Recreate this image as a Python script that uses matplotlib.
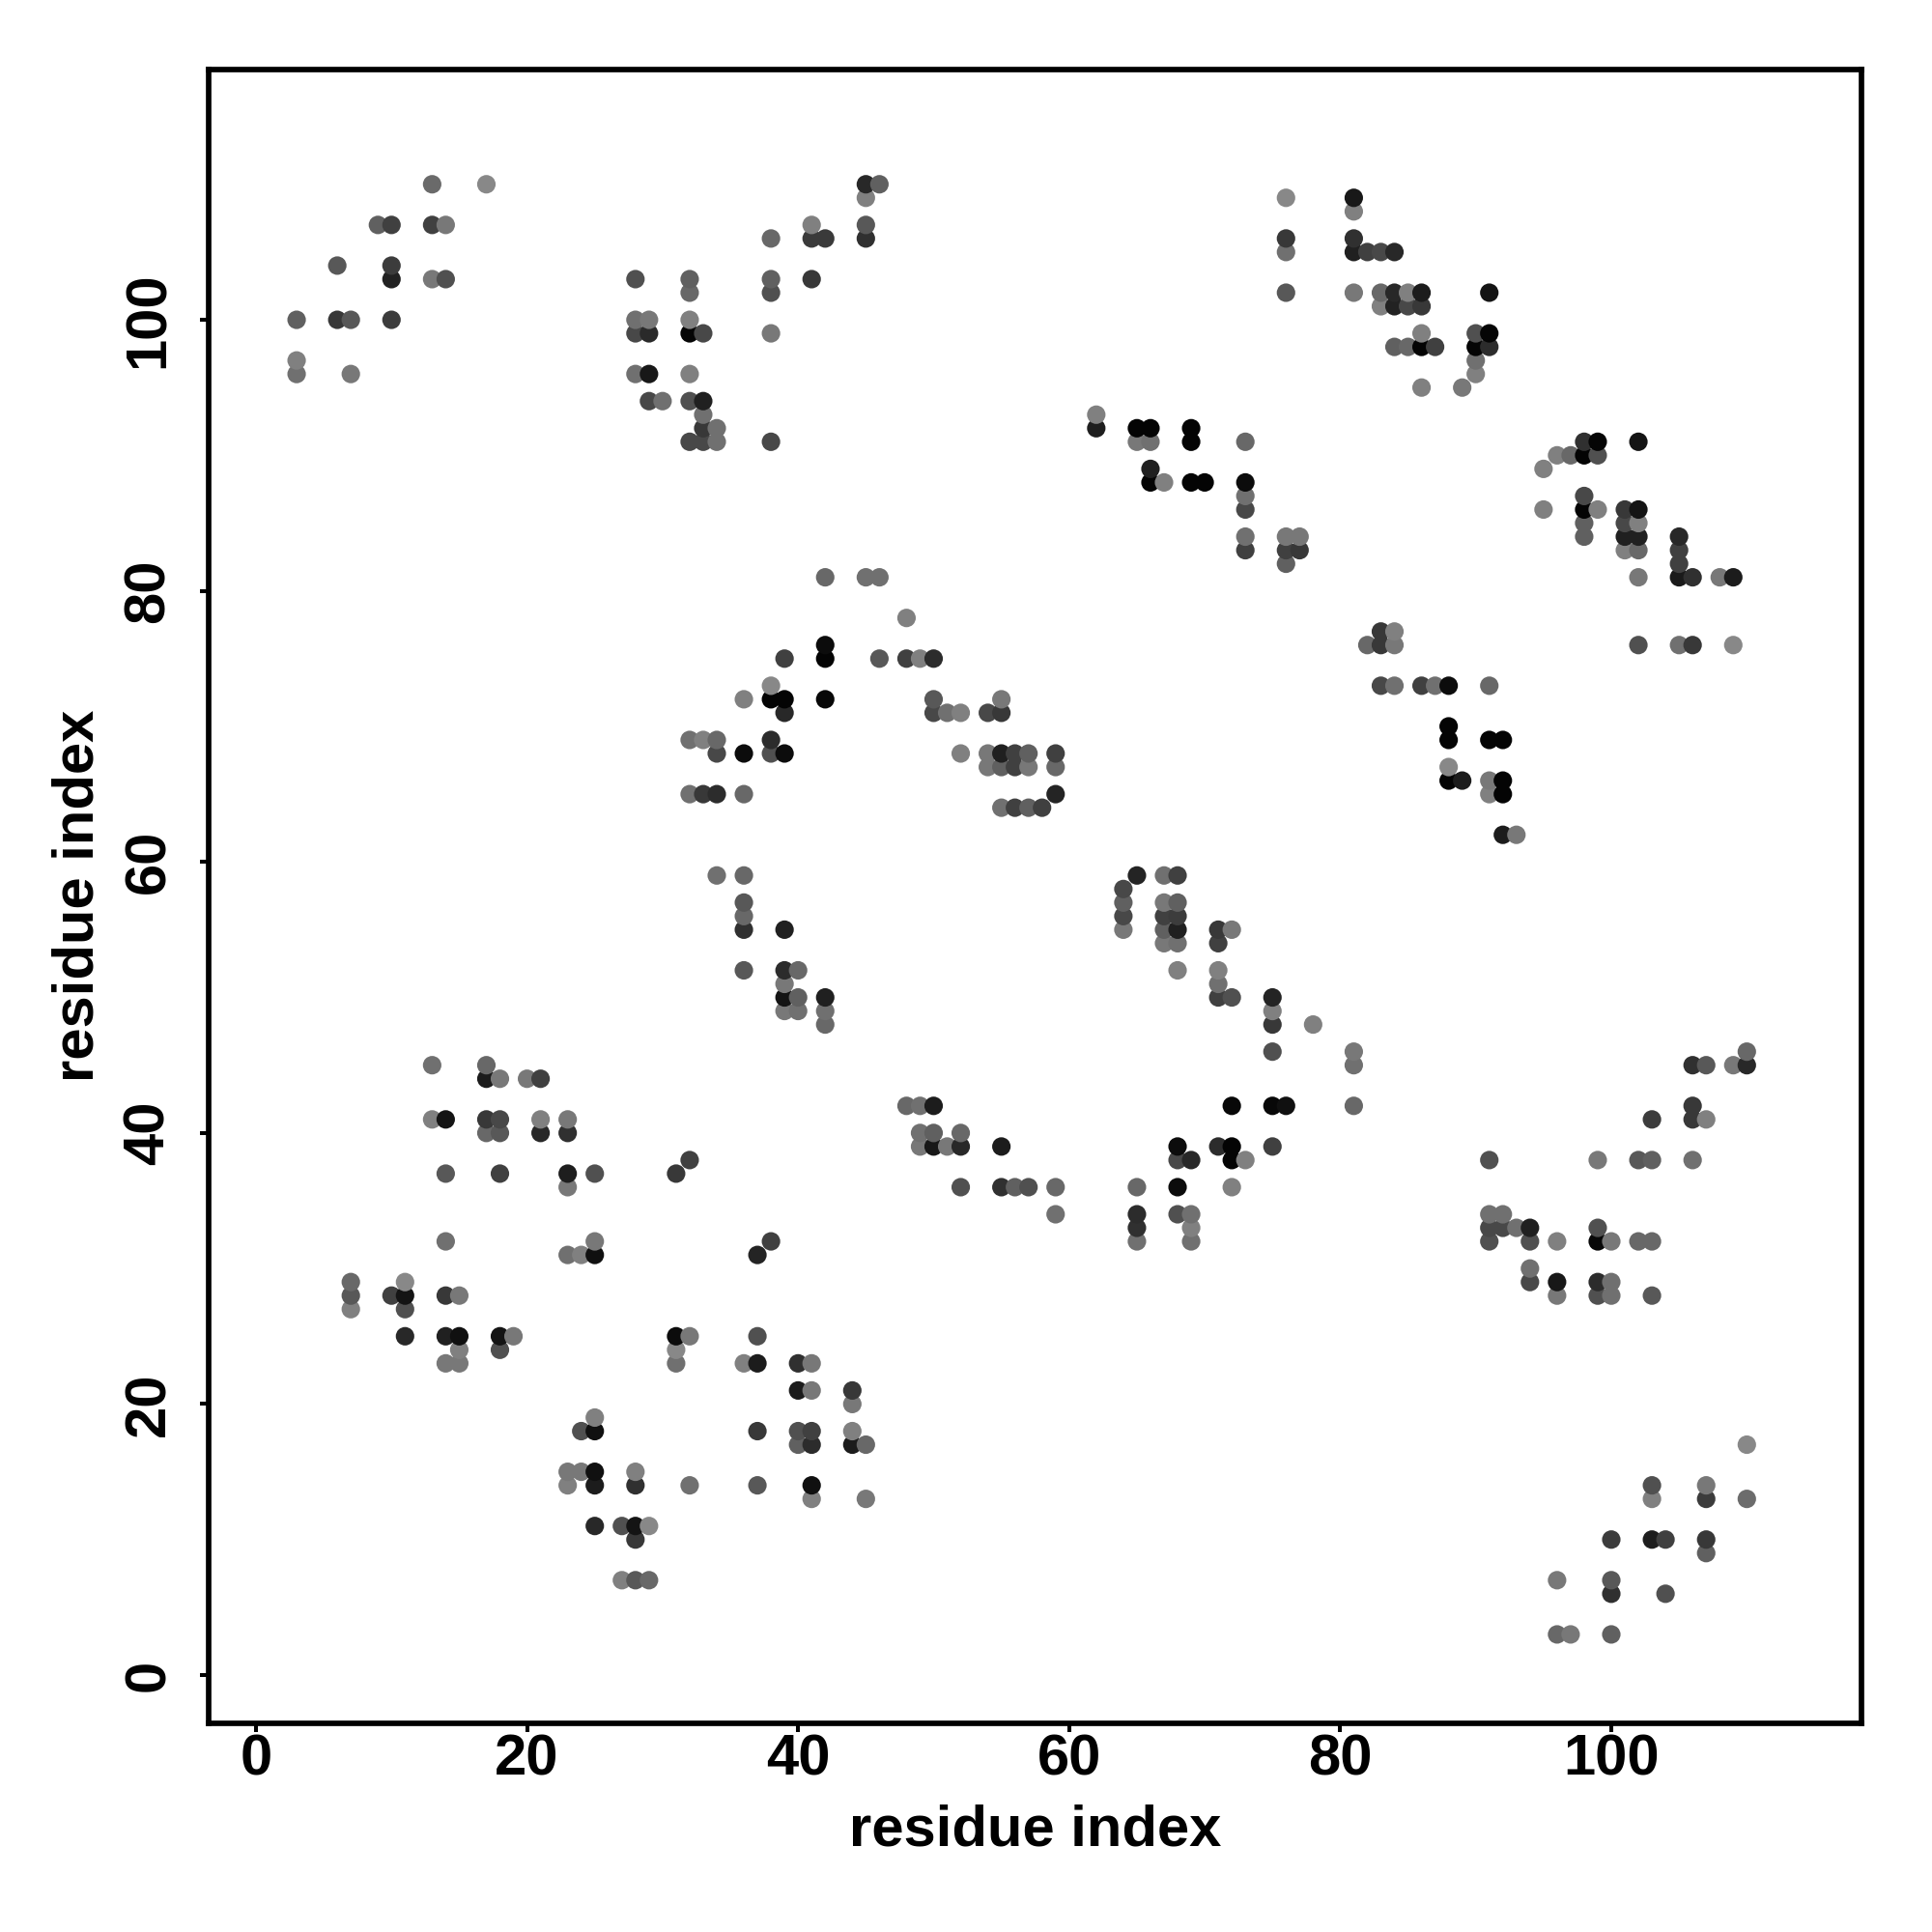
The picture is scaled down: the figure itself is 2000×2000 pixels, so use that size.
import matplotlib
matplotlib.use("Agg")
import matplotlib.pyplot as plt
import numpy as np

FONTSIZE = 43

# contact map: one entry per row of the map
contact_rows = [110, 109, 108, 107, 106, 105, 104, 103, 102, 101, 100, 99, 98, 97, 96, 95, 94, 93, 92, 91,
                90, 89, 88, 87, 86, 85, 84, 83, 82, 81, 78, 77, 76, 75, 73, 72, 71, 70, 69, 68, 67, 66, 65, 64, 62,
                59, 58, 57, 56, 55, 54, 52, 51, 50, 49, 48, 46, 45, 44, 42, 41, 40, 39, 38, 37, 36, 34, 33, 32, 31,
                30, 29, 28, 27, 25, 24, 23, 21, 20, 19, 18, 17, 15, 14, 13, 11, 10, 9, 7, 6, 3]

contact_cols = [
    [13, 17, 45, 46],
    [45, 76, 81],
    [81],
    [9, 10, 13, 14, 41, 45],
    [38, 41, 42, 45, 76, 81],
    [76, 81, 82, 83, 84],
    [6, 10],
    [10, 13, 14, 28, 32, 38, 41],
    [32, 38, 76, 81, 83, 84, 85, 86, 91],
    [83, 84, 85, 86],
    [3, 6, 7, 10, 28, 29, 32],
    [28, 29, 32, 33, 38, 86, 90, 91],
    [84, 85, 86, 87, 90, 91],
    [3, 90],
    [3, 7, 28, 29, 32, 90],
    [86, 89],
    [29, 30, 32, 33],
    [33, 62],
    [33, 34, 62, 65, 66, 69],
    [32, 33, 34, 38, 65, 66, 69, 73, 98, 99, 102],
    [96, 97, 98, 99],
    [66, 95],
    [66, 67, 69, 70, 73],
    [73, 98],
    [73, 95, 98, 99, 101, 102],
    [98, 101, 102],
    [73, 76, 77, 98, 101, 102, 105],
    [73, 76, 77, 101, 102, 105],
    [76, 105],
    [42, 45, 46, 102, 105, 106, 108, 109],
    [48],
    [83, 84],
    [42, 82, 83, 84, 102, 105, 106, 109],
    [39, 42, 46, 48, 49, 50],
    [38, 83, 84, 86, 87, 88, 91],
    [36, 38, 39, 42, 50, 55],
    [39, 50, 51, 52, 54, 55],
    [88],
    [32, 33, 34, 38, 88, 91, 92],
    [34, 36, 38, 39, 52, 54, 55, 56, 57, 59],
    [54, 55, 56, 57, 59, 88],
    [88, 89, 91, 92],
    [32, 33, 34, 36, 59, 91, 92],
    [55, 56, 57, 58],
    [92, 93],
    [34, 36, 65, 67, 68],
    [64],
    [36, 64, 67, 68],
    [36, 64, 67, 68],
    [36, 39, 64, 67, 68, 71, 72],
    [67, 68, 71],
    [36, 39, 40, 68, 71],
    [39, 71],
    [39, 40, 42, 71, 72, 75],
    [39, 40, 42, 75],
    [42, 75, 78],
    [75, 81, 110],
    [13, 17, 81, 106, 107, 109, 110],
    [17, 18, 20, 21],
    [48, 49, 50, 72, 75, 76, 81, 106],
    [13, 14, 17, 18, 21, 23, 103, 106, 107],
    [17, 18, 21, 23, 49, 50, 52],
    [49, 50, 51, 52, 55, 68, 71, 72, 75],
    [32, 68, 69, 72, 73, 91, 99, 102, 103, 106],
    [14, 18, 23, 25, 31],
    [23, 52, 55, 56, 57, 59, 65, 68, 72],
    [59, 65, 68, 69, 91, 92],
    [65, 69, 91, 92, 93, 94, 99],
    [14, 25, 38, 65, 69, 91, 94, 96, 99, 100, 102, 103],
    [23, 24, 25, 37],
    [94],
    [7, 11, 94, 96, 99, 100],
    [7, 10, 11, 14, 15, 96, 99, 100, 103],
    [7, 11],
    [11, 14, 15, 18, 19, 31, 32, 37],
    [15, 18, 31],
    [14, 15, 31, 36, 37, 40, 41],
    [40, 41, 44],
    [44],
    [25],
    [24, 25, 37, 40, 41, 44],
    [40, 41, 44, 45, 110],
    [23, 24, 25, 28],
    [23, 25, 28, 32, 37, 41, 103, 107],
    [41, 45, 103, 107, 110],
    [25, 27, 28, 29],
    [28, 100, 103, 104, 107],
    [107],
    [27, 28, 29, 96, 100],
    [100, 104],
    [96, 97, 100],
]

contact_grays = [
    [0x6a, 0x88, 0x28, 0x60],
    [0x80, 0x88, 0x18],
    [0x80],
    [0x60, 0x40, 0x40, 0x78, 0x80, 0x58],
    [0x68, 0x3a, 0x3a, 0x30, 0x38, 0x30],
    [0x70, 0x20, 0x40, 0x48, 0x28],
    [0x58, 0x3c],
    [0x22, 0x78, 0x50, 0x50, 0x60, 0x60, 0x38],
    [0x68, 0x50, 0x58, 0x78, 0x68, 0x28, 0x80, 0x1c, 0x14],
    [0x80, 0x22, 0x48, 0x38],
    [0x60, 0x38, 0x58, 0x3c, 0x70, 0x78, 0x80],
    [0x48, 0x2a, 0x05, 0x48, 0x78, 0x80, 0x50, 0x05],
    [0x60, 0x68, 0x04, 0x40, 0x05, 0x2c],
    [0x80, 0x70],
    [0x70, 0x78, 0x70, 0x18, 0x80, 0x80],
    [0x80, 0x78],
    [0x48, 0x70, 0x50, 0x20],
    [0x70, 0x80],
    [0x38, 0x70, 0x1e, 0x04, 0x04, 0x04],
    [0x48, 0x48, 0x70, 0x48, 0x78, 0x70, 0x04, 0x68, 0x30, 0x05, 0x14],
    [0x80, 0x68, 0x04, 0x50],
    [0x20, 0x80],
    [0x04, 0x80, 0x04, 0x04, 0x0c],
    [0x70, 0x48],
    [0x48, 0x80, 0x04, 0x80, 0x38, 0x14],
    [0x60, 0x48, 0x80],
    [0x70, 0x78, 0x78, 0x60, 0x20, 0x20, 0x28],
    [0x40, 0x40, 0x38, 0x80, 0x68, 0x40],
    [0x60, 0x40],
    [0x68, 0x70, 0x70, 0x78, 0x1a, 0x30, 0x78, 0x1c],
    [0x80],
    [0x38, 0x80],
    [0x0c, 0x68, 0x38, 0x78, 0x50, 0x70, 0x38, 0x88],
    [0x40, 0x04, 0x58, 0x40, 0x80, 0x2c],
    [0x88, 0x48, 0x70, 0x40, 0x70, 0x0c, 0x68],
    [0x80, 0x04, 0x04, 0x08, 0x58, 0x78],
    [0x28, 0x48, 0x70, 0x80, 0x48, 0x38],
    [0x04],
    [0x70, 0x80, 0x68, 0x2c, 0x04, 0x04, 0x04],
    [0x48, 0x0c, 0x50, 0x0c, 0x80, 0x78, 0x20, 0x40, 0x60, 0x40],
    [0x78, 0x60, 0x40, 0x78, 0x68, 0x88],
    [0x04, 0x1c, 0x78, 0x04],
    [0x70, 0x38, 0x2c, 0x68, 0x24, 0x80, 0x04],
    [0x70, 0x40, 0x60, 0x40],
    [0x1c, 0x78],
    [0x70, 0x68, 0x24, 0x70, 0x40],
    [0x48],
    [0x58, 0x60, 0x78, 0x60],
    [0x68, 0x48, 0x40, 0x3c],
    [0x30, 0x20, 0x78, 0x60, 0x20, 0x38, 0x78],
    [0x78, 0x70, 0x40],
    [0x58, 0x2c, 0x68, 0x80, 0x80],
    [0x78, 0x70],
    [0x14, 0x60, 0x20, 0x40, 0x50, 0x24],
    [0x78, 0x70, 0x70, 0x80],
    [0x68, 0x38, 0x80],
    [0x50, 0x78, 0x68],
    [0x70, 0x68, 0x70, 0x30, 0x58, 0x78, 0x28],
    [0x1c, 0x78, 0x78, 0x40],
    [0x68, 0x70, 0x1c, 0x08, 0x08, 0x10, 0x68, 0x38],
    [0x80, 0x14, 0x38, 0x48, 0x80, 0x78, 0x3c, 0x38, 0x80],
    [0x68, 0x58, 0x28, 0x30, 0x70, 0x60, 0x68],
    [0x78, 0x18, 0x78, 0x28, 0x1c, 0x0c, 0x2c, 0x04, 0x40],
    [0x40, 0x48, 0x28, 0x04, 0x80, 0x50, 0x78, 0x58, 0x60, 0x70],
    [0x58, 0x40, 0x1e, 0x50, 0x38],
    [0x78, 0x50, 0x30, 0x60, 0x50, 0x68, 0x68, 0x0c, 0x80],
    [0x70, 0x2c, 0x50, 0x70, 0x70, 0x70],
    [0x30, 0x80, 0x48, 0x48, 0x70, 0x20, 0x50],
    [0x70, 0x78, 0x40, 0x70, 0x70, 0x50, 0x50, 0x80, 0x08, 0x78, 0x68, 0x68],
    [0x70, 0x80, 0x10, 0x24],
    [0x70],
    [0x68, 0x88, 0x48, 0x18, 0x2c, 0x70],
    [0x58, 0x40, 0x14, 0x38, 0x78, 0x78, 0x50, 0x70, 0x58],
    [0x80, 0x50],
    [0x28, 0x20, 0x10, 0x14, 0x78, 0x0c, 0x78, 0x50],
    [0x80, 0x50, 0x88],
    [0x78, 0x78, 0x70, 0x80, 0x1c, 0x30, 0x78],
    [0x1c, 0x78, 0x38],
    [0x78],
    [0x80],
    [0x50, 0x10, 0x38, 0x50, 0x40, 0x80],
    [0x60, 0x2c, 0x1c, 0x68, 0x88],
    [0x78, 0x78, 0x10, 0x80],
    [0x80, 0x1c, 0x30, 0x70, 0x58, 0x10, 0x50, 0x78],
    [0x80, 0x78, 0x80, 0x3c, 0x6c],
    [0x28, 0x50, 0x14, 0x88],
    [0x38, 0x3c, 0x1e, 0x40, 0x38],
    [0x60],
    [0x80, 0x58, 0x68, 0x78, 0x58],
    [0x30, 0x50],
    [0x68, 0x78, 0x60],
]

xticks = [0, 20, 40, 60, 80, 100]
yticks = [0, 20, 40, 60, 80, 100]

plt.rcParams['font.family'] = ['Liberation Sans', 'DejaVu Sans']

x = np.concatenate(contact_cols)
y = np.concatenate([[r] * len(c) for r, c in zip(contact_rows, contact_cols)])
grey = np.concatenate(contact_grays) / 255.0

fig = plt.figure(figsize=(20, 20), dpi=100)
ax = fig.add_axes([216/2000, 1-1783.7/2000, (1927-216)/2000, (1783.7-71.5)/2000])

# later residues are drawn on top
order = np.lexsort((y, x))
ax.scatter(x[order], y[order], s=190, c=np.column_stack([grey, grey, grey])[order], linewidths=0)

ax.set_xlim(-3.49, 118.46)
ax.set_ylim(-3.54, 118.5)
ax.set_xticks(xticks)
ax.set_yticks(yticks)
for s in ax.spines.values():
    s.set_linewidth(4.1)
ax.tick_params(axis='both', length=6.5, width=2.9)
ax.tick_params(axis='x', pad=1, labelsize=FONTSIZE)
ax.tick_params(axis='y', pad=18, labelsize=FONTSIZE, labelrotation=90)
for t in ax.get_xticklabels() + ax.get_yticklabels():
    t.set_fontweight('bold')
for t in ax.get_yticklabels():
    t.set_va('center')

ax.set_xlabel("residue index", fontsize=FONTSIZE, fontweight='bold')
ax.set_ylabel("residue index", fontsize=FONTSIZE, fontweight='bold')
ax.xaxis.set_label_coords(0.5, (1783.7-1895)/(1783.7-71.5), transform=ax.transAxes)
ax.yaxis.set_label_coords((81.5-216)/(1927-216), 0.5, transform=ax.transAxes)
ax.xaxis.label.set_va('center')
ax.yaxis.label.set_va('center')

plt.savefig("out.png", dpi=100)
